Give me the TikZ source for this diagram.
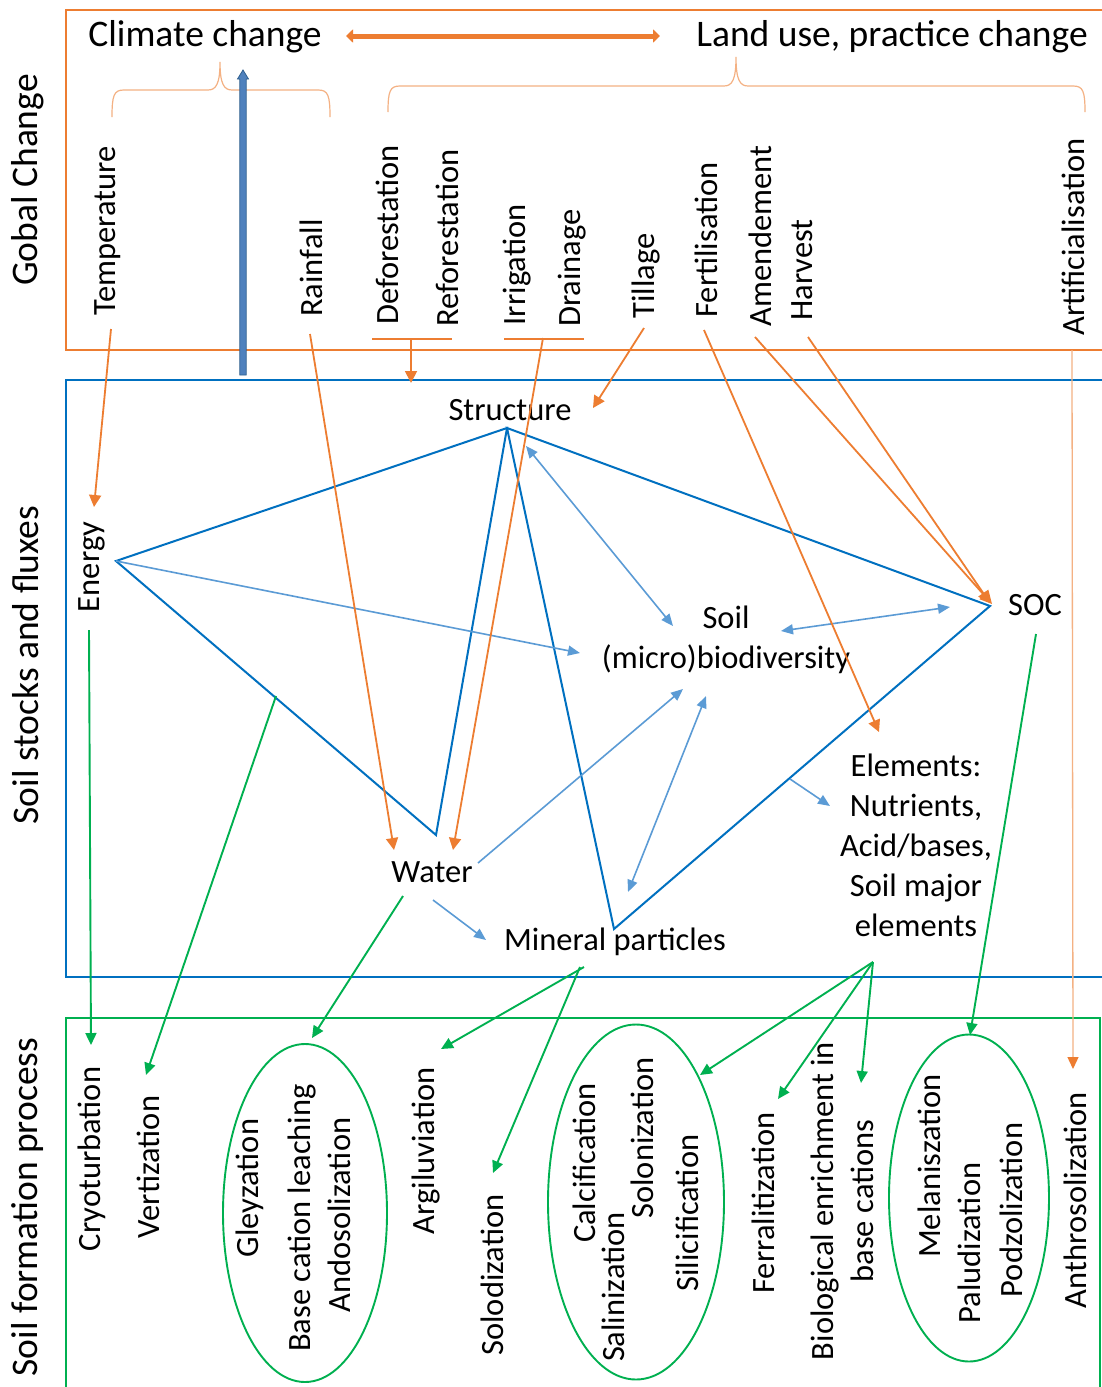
\documentclass[tikz,border=0pt]{standalone}
\usepackage{fontspec}
\setmainfont{Carlito}
\usetikzlibrary{arrows.meta,calc,shapes.geometric}
\definecolor{corange}{HTML}{ED7D31}
\definecolor{clorange}{HTML}{F4B183}
\definecolor{cblue}{HTML}{0070C0}
\definecolor{clblue}{HTML}{5B9BD5}
\definecolor{cgreen}{HTML}{00B050}
\definecolor{cbarfill}{HTML}{4F81BD}
\definecolor{cbardraw}{HTML}{2F5F8F}
\begin{document}
\begin{tikzpicture}[x=1pt,y=-1pt,
  lbl/.style={font=\fontsize{32.5}{40}\selectfont, inner sep=0pt, align=center},
  vlbl/.style={lbl, rotate=90},
  hdr/.style={font=\fontsize{37.5}{45}\selectfont, inner sep=0pt},
  vhdr/.style={hdr, rotate=90},
  boxframe/.style={line width=1.8pt},
  tri/.style={cblue, line width=2pt},
  oarr/.style={corange, line width=1.8pt, -{Triangle[length=12pt,width=12pt]}},
  barr/.style={clblue, line width=1.6pt, -{Triangle[length=12pt,width=10pt]}},
  bbarr/.style={clblue, line width=1.6pt, {Triangle[length=12pt,width=10pt]}-{Triangle[length=12pt,width=10pt]}},
  garr/.style={cgreen, line width=1.9pt, -{Triangle[length=12pt,width=11pt]}},
  brace/.style={clorange, line width=1.2pt},
  obar/.style={corange, line width=1.4pt},
  ellnode/.style={draw=cgreen, line width=1.9pt, shape=ellipse, inner sep=0pt}
]
\useasboundingbox (0,0) rectangle (1102,1387);
\fill[white] (0,0) rectangle (1102,1387);

% frames
\draw[boxframe, corange] (66,10) rectangle (1112,350);
\draw[boxframe, cblue] (66,380) rectangle (1112,977);
\draw[boxframe, cgreen] (66,1018) rectangle (1100,1400);

% side titles
\node[vhdr] (gc) at (28,180) {Gobal Change};
\node[vhdr] (ssf) at (26,665) {Soil stocks and fluxes};
\node[vhdr] (sfp) at (28,1207) {Soil formation process};

% headers
\node[hdr] (cc) at (205,37) {Climate change};
\node[hdr] (lu) at (892,37) {Land use, practice change};
\coordinate (ccR) at (346,36);
\coordinate (luL) at (660,36);
\draw[corange, line width=5pt, {Triangle[length=7pt,width=13pt]}-{Triangle[length=7pt,width=13pt]}] (ccR) -- (luL);

% braces
\draw[brace] (112,117) .. controls (112,95) and (114,90) .. (124,90) -- (208,90)
  .. controls (216,90) and (220,84) .. (220,62) .. controls (220,84) and (224,90) .. (232,90)
  -- (318,90) .. controls (328,90) and (330,95) .. (330,117);
\draw[brace] (388,112) .. controls (388,91) and (390,86) .. (400,86) -- (724,86)
  .. controls (732,86) and (736,80) .. (736,57) .. controls (736,80) and (740,86) .. (748,86)
  -- (1073,86) .. controls (1083,86) and (1085,91) .. (1085,112);

% thick blue arrow
\coordinate (baB) at (243,375);
\coordinate (baT) at (243,70);
\filldraw[fill=cbarfill, draw=cbardraw, line width=0.8pt]
  ($(baB)+(-3.2,0)$) -- ($(baT)+(-3.2,9)$) -- ($(baT)+(-5.5,9)$) -- (baT)
  -- ($(baT)+(5.5,9)$) -- ($(baT)+(3.2,9)$) -- ($(baB)+(3.2,0)$) -- cycle;

% top labels
\node[vlbl] (temp) at (108,231) {Temperature};
\node[vlbl] (rain) at (311,268) {Rainfall};
\node[vlbl] (defo) at (387,235) {Deforestation};
\node[vlbl] (refo) at (447,238) {Reforestation};
\node[vlbl] (irri) at (517,265) {Irrigation};
\node[vlbl] (drai) at (572,268) {Drainage};
\node[vlbl] (till) at (646,276) {Tillage};
\node[vlbl] (fert) at (706,240) {Fertilisation};
\node[vlbl] (amen) at (760,236) {Amendement};
\node[vlbl] (harv) at (802,270) {Harvest};
\node[vlbl] (arti) at (1073,237) {Artificialisation};

% middle labels
\node[lbl] (str) at (510,410) {Structure};
\node[vlbl] (ener) at (92,567) {Energy};
\node[lbl] (soil) at (726,640) {Soil\\(micro)biodiversity};
\node[lbl] (soc) at (1035,605) {SOC};
\node[lbl] (elem) at (916,845) {Elements:\\Nutrients,\\Acid/bases,\\Soil major\\elements};
\node[lbl] (wat) at (432,872) {Water};
\node[lbl] (mine) at (615,942) {Mineral particles};

% bottom labels
\node[vlbl] (cryo) at (92,1159) {Cryoturbation};
\node[vlbl] (vert) at (148,1167) {Vertization};
\node[ellnode, minimum width=164pt, minimum height=338pt] (e1) at (305,1213) {};
\node[vlbl] (gley) at (250,1188) {Gleyzation};
\node[vlbl] (bcl) at (302,1218) {Base cation leaching};
\node[vlbl] (ando) at (339,1215) {Andosolization};
\node[vlbl] (argi) at (426,1151) {Argiluviation};
\node[vlbl] (solo) at (492,1275) {Solodization};
\node[ellnode, minimum width=176pt, minimum height=355pt] (e2) at (636,1202) {};
\node[vlbl] (calc) at (584,1163) {Calcification};
\node[vlbl] (sali) at (613,1287) {Salinization};
\node[vlbl] (solon) at (642,1138) {Solonization};
\node[vlbl] (sili) at (687,1213) {Silicification};
\node[vlbl] (ferr) at (763,1203) {Ferralitization};
\node[vlbl] (bio) at (842,1201) {Biological enrichment in\\base cations};
\node[ellnode, minimum width=160pt, minimum height=327pt] (e3) at (969,1198) {};
\node[vlbl] (mela) at (929,1166) {Melaniszation};
\node[vlbl] (palu) at (969,1243) {Paludization};
\node[vlbl] (podz) at (1011,1210) {Podzolization};
\node[vlbl] (anth) at (1075,1200) {Anthrosolization};

% blue network
\coordinate (vS) at (507,428);
\coordinate (vE) at (116,561);
\coordinate (vC) at (990,606);
\coordinate (vW) at (436,835);
\coordinate (vM) at (614,929);
\draw[tri] (vE) -- (vS) -- (vW) -- cycle;
\draw[tri] (vS) -- (vC) -- (vM) -- cycle;

% light blue arrows
\coordinate (b1e) at (580,653);
\draw[barr] (vE) -- (b1e);
\coordinate (b2s) at (526,446); \coordinate (b2e) at (673,626);
\draw[bbarr] (b2s) -- (b2e);
\coordinate (b3s) at (781,631); \coordinate (b3e) at (950,607);
\draw[bbarr] (b3s) -- (b3e);
\coordinate (b4s) at (478,863); \coordinate (b4e) at (683,689);
\draw[barr] (b4s) -- (b4e);
\coordinate (b5s) at (706,696); \coordinate (b5e) at (628,892);
\draw[bbarr] (b5s) -- (b5e);
\coordinate (b6s) at (433,900); \coordinate (b6e) at (486,940);
\draw[barr] (b6s) -- (b6e);
\coordinate (b7s) at (790,779); \coordinate (b7e) at (830,806);
\draw[barr] (b7s) -- (b7e);

% orange arrows
\coordinate (o1s) at (111,329); \coordinate (o1e) at (94,507);
\draw[oarr] (o1s) -- (o1e);
\coordinate (o2s) at (310,334); \coordinate (o2e) at (394,850);
\draw[oarr] (o2s) -- (o2e);
\coordinate (db1) at (372,339); \coordinate (db2) at (452,339);
\draw[obar] (db1) -- (db2);
\coordinate (o3s) at (411,340); \coordinate (o3e) at (411,383);
\draw[oarr] (o3s) -- (o3e);
\coordinate (ib1) at (504,339); \coordinate (ib2) at (584,339);
\draw[obar] (ib1) -- (ib2);
\coordinate (o4s) at (543,338); \coordinate (o4e) at (453,850);
\draw[oarr] (o4s) -- (o4e);
\coordinate (o5s) at (644,328); \coordinate (o5e) at (593,408);
\draw[oarr] (o5s) -- (o5e);
\coordinate (o6s) at (704,330); \coordinate (o6e) at (879,732);
\draw[oarr] (o6s) -- (o6e);
\coordinate (o7s) at (755,337); \coordinate (o7e) at (992,604);
\draw[oarr] (o7s) -- (o7e);
\coordinate (o8s) at (808,337); \coordinate (o8e) at (990,603);
\draw[oarr] (o8s) -- (o8e);
\coordinate (o9s) at (1072,350); \coordinate (o9e) at (1073,1069);
\draw[clorange, line width=1.3pt, -{Triangle[length=12pt,width=11pt,color=corange]}] (o9s) -- (o9e);

% green arrows
\coordinate (g1s) at (89,630); \coordinate (g1e) at (91,1045);
\draw[garr] (g1s) -- (g1e);
\coordinate (g2s) at (276,696); \coordinate (g2e) at (146,1075);
\draw[garr] (g2s) -- (g2e);
\coordinate (g3s) at (403,896); \coordinate (g3e) at (312,1038);
\draw[garr] (g3s) -- (g3e);
\coordinate (g4s) at (584,967); \coordinate (g4e) at (441,1049);
\draw[garr] (g4s) -- (g4e);
\coordinate (g5s) at (580,967); \coordinate (g5e) at (493,1173);
\draw[garr] (g5s) -- (g5e);
\coordinate (g6s) at (873,962); \coordinate (g6e) at (700,1075);
\draw[garr] (g6s) -- (g6e);
\coordinate (g7e) at (778,1099);
\draw[garr] (g6s) -- (g7e);
\coordinate (g8e) at (861,1083);
\draw[garr] (g6s) -- (g8e);
\coordinate (g9s) at (1036,634); \coordinate (g9e) at (970,1035);
\draw[garr] (g9s) -- (g9e);
\end{tikzpicture}
\end{document}
